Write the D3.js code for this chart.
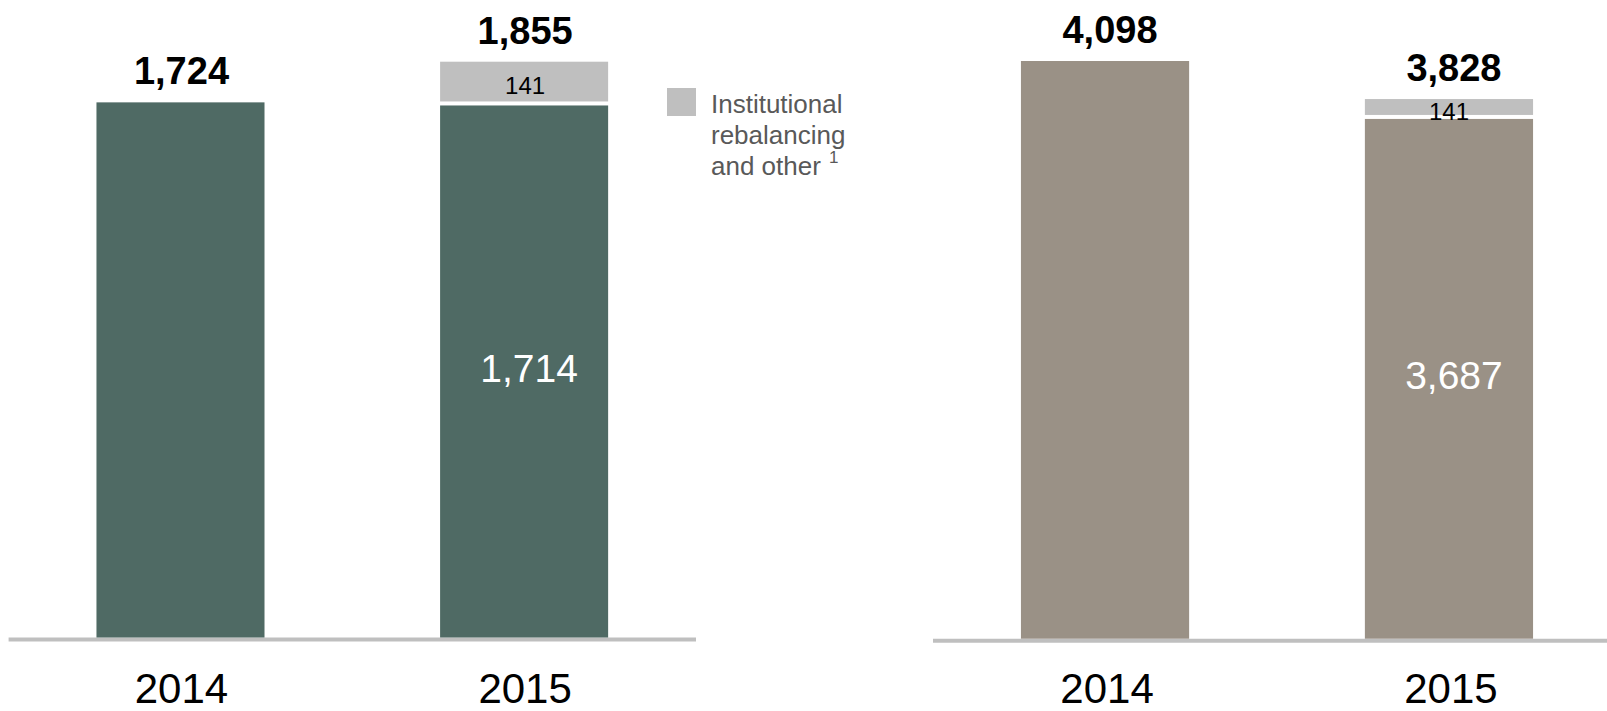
<!DOCTYPE html>
<html>
<head>
<meta charset="utf-8">
<script src="https://cdn.jsdelivr.net/npm/d3@7"></script>
<style>
  html, body { margin: 0; padding: 0; background: #fff; }
  svg { display: block; font-family: "Liberation Sans", Arial, sans-serif; }
</style>
</head>
<body>
<svg id="chart" width="1607" height="711"></svg>
<script>
// ---- data ----
const years = ["2014", "2015"];
const leftBase = [1724, 1714];
const leftExtra = [0, 141];
const leftTotals = [1724, 1855];
const rightBase = [4098, 3687];
const rightExtra = [0, 141];
const rightTotals = [4098, 3828];
const legendLines = ["Institutional", "rebalancing", "and other"];
const legendNote = "1";

const colors = { left: "#4f6a64", right: "#9a9186", extra: "#bfbfbf", axis: "#bfbfbf" };

const svg = d3.select("#chart");

function panel(cfg) {
  const g = svg.append("g");
  const x = d3.scaleBand().domain(years).range(cfg.xRange).paddingInner(0.511).paddingOuter(0.2557);
  const y = d3.scaleLinear().domain([0, cfg.yMax]).range([cfg.bottom, cfg.top]);
  const rows = years.map((yr, i) => ({ yr, base: cfg.base[i], extra: cfg.extra[i], total: cfg.totals[i] }));
  const cx = d => x(d.yr) + x.bandwidth() / 2;

  // axis line
  g.append("line")
    .attr("x1", cfg.axisX[0]).attr("x2", cfg.axisX[1])
    .attr("y1", cfg.bottom + 2).attr("y2", cfg.bottom + 2)
    .attr("stroke", colors.axis).attr("stroke-width", 4);

  // base bars
  g.selectAll("rect.base").data(rows).join("rect")
    .attr("class", "base")
    .attr("x", d => x(d.yr)).attr("width", x.bandwidth())
    .attr("y", d => y(d.base)).attr("height", d => y(0) - y(d.base))
    .attr("fill", cfg.color);

  // extra segment
  const ex = rows.filter(d => d.extra > 0);
  g.selectAll("rect.extra").data(ex).join("rect")
    .attr("class", "extra")
    .attr("x", d => x(d.yr)).attr("width", x.bandwidth())
    .attr("y", d => y(d.base + d.extra))
    .attr("height", d => Math.max(0, y(d.base) - y(d.base + d.extra) - 4))
    .attr("fill", colors.extra);

  g.selectAll("text.extra").data(ex).join("text")
    .attr("class", "extra")
    .attr("x", d => cx(d) + cfg.dxSmall)
    .attr("y", d => (y(d.base) + y(d.base + d.extra)) / 2 + 10.6)
    .attr("text-anchor", "middle")
    .attr("font-size", 24).attr("fill", "#000")
    .text(d => d3.format(",")(d.extra));

  // inner labels (only for stacked bars)
  g.selectAll("text.inner").data(ex).join("text")
    .attr("class", "inner")
    .attr("x", d => cx(d) + cfg.dxInner)
    .attr("y", d => (y(d.base) + y(0)) / 2 + 10.6)
    .attr("text-anchor", "middle")
    .attr("font-size", 39).attr("fill", "#fff")
    .text(d => d3.format(",")(d.base));

  // totals
  g.selectAll("text.total").data(rows).join("text")
    .attr("class", "total")
    .attr("x", d => cx(d) + cfg.dxTotal)
    .attr("y", d => y(d.total) - 18)
    .attr("text-anchor", "middle")
    .attr("font-size", 38).attr("font-weight", "bold").attr("fill", "#000")
    .text(d => d3.format(",")(d.total));

  // year labels
  g.selectAll("text.year").data(rows).join("text")
    .attr("class", "year")
    .attr("x", d => cx(d) + cfg.dxYear)
    .attr("y", 703)
    .attr("text-anchor", "middle")
    .attr("font-size", 42).attr("fill", "#000")
    .text(d => d.yr);
}

panel({ xRange: [8.6, 696], axisX: [8.6, 696], yMax: 1855, bottom: 637.5, top: 61.7,
        base: leftBase, extra: leftExtra, totals: leftTotals, color: colors.left,
        dxTotal: 1, dxInner: 5, dxSmall: 1, dxYear: 1 });
panel({ xRange: [933, 1621], axisX: [933, 1607], yMax: 4098, bottom: 638.7, top: 61,
        base: rightBase, extra: rightExtra, totals: rightTotals, color: colors.right,
        dxTotal: 5, dxInner: 5, dxSmall: 0, dxYear: 2 });

// legend
const lg = svg.append("g");
lg.append("rect").attr("x", 667).attr("y", 88).attr("width", 29).attr("height", 28).attr("fill", colors.extra);
const lt = lg.append("text").attr("font-size", 26).attr("fill", "#595959");
legendLines.forEach((s, i) => {
  lt.append("tspan").attr("x", 711).attr("y", 113 + i * 30.8).text(s);
});
lt.append("tspan").attr("dx", 8).attr("dy", -12).attr("font-size", 17).text(legendNote);
</script>
</body>
</html>
